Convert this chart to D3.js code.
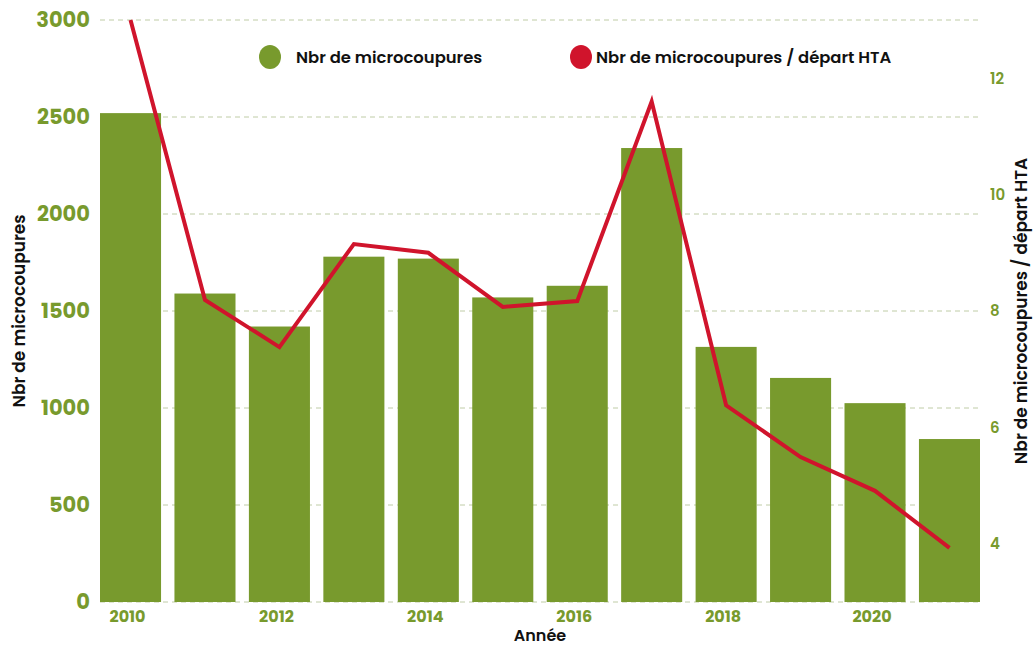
<!DOCTYPE html>
<html>
<head>
<meta charset="utf-8">
<script src="https://cdn.jsdelivr.net/npm/d3@7"></script>
<style>
  html, body { margin: 0; padding: 0; background: #fff; }
  svg { display: block; font-family: Poppins, Inter, sans-serif; }
</style>
</head>
<body>
<svg id="chart" width="1033" height="646"></svg>
<script>
// data
const years = [2010, 2011, 2012, 2013, 2014, 2015, 2016, 2017, 2018, 2019, 2020, 2021];
const microcoupures = [2520, 1590, 1420, 1780, 1770, 1570, 1630, 2340, 1315, 1155, 1025, 840];
const parDepartHTA = [13.0, 8.19, 7.38, 9.15, 9.0, 8.07, 8.17, 11.6, 6.38, 5.49, 4.91, 3.93];
const leftTicks = [0, 500, 1000, 1500, 2000, 2500, 3000];
const rightTicks = [4, 6, 8, 10, 12];
const xTickYears = [2010, 2012, 2014, 2016, 2018, 2020];
const seriesNames = ["Nbr de microcoupures", "Nbr de microcoupures / départ HTA"];

const GREEN = '#789a2d';
const RED = '#d0142c';
const GRID = '#bfcca6';

const plotLeft = 100, plotRight = 980, plotTop = 20, plotBottom = 602;

const svg = d3.select('#chart');

const x = d3.scaleBand()
  .domain(years)
  .range([plotLeft, plotRight])
  .paddingInner(0.18)
  .paddingOuter(0);

const yLeft = d3.scaleLinear().domain([0, 3000]).range([plotBottom, plotTop]);
const yRight = d3.scaleLinear().domain([3, 13]).range([plotBottom, plotTop]);

// grid
svg.append('g')
  .selectAll('line')
  .data(leftTicks)
  .join('line')
  .attr('x1', plotLeft).attr('x2', plotRight)
  .attr('y1', d => yLeft(d)).attr('y2', d => yLeft(d))
  .attr('stroke', GRID)
  .attr('stroke-width', 1)
  .attr('stroke-dasharray', '5,4');

// bars
svg.append('g')
  .selectAll('rect')
  .data(years)
  .join('rect')
  .attr('x', d => x(d))
  .attr('width', x.bandwidth())
  .attr('y', (d, i) => yLeft(microcoupures[i]))
  .attr('height', (d, i) => yLeft(0) - yLeft(microcoupures[i]))
  .attr('fill', GREEN);

// line
const line = d3.line()
  .x((d, i) => x(years[i]) + x.bandwidth() / 2)
  .y(d => yRight(d));

svg.append('path')
  .datum(parDepartHTA)
  .attr('d', line)
  .attr('fill', 'none')
  .attr('stroke', RED)
  .attr('stroke-width', 4);

// left axis
svg.append('g')
  .attr('transform', `translate(${plotLeft - 10},0)`)
  .call(d3.axisLeft(yLeft).tickValues(leftTicks).tickFormat(d3.format('d')).tickSize(0).tickPadding(0))
  .call(ax => ax.select('.domain').remove())
  .call(ax => ax.selectAll('text')
    .attr('fill', GREEN).attr('font-size', 21).attr('font-weight', 700)
    .attr('font-family', 'Poppins, Inter, sans-serif'));

// right axis
svg.append('g')
  .attr('transform', `translate(${plotRight + 10},0)`)
  .call(d3.axisRight(yRight).tickValues(rightTicks).tickSize(0).tickPadding(0))
  .call(ax => ax.select('.domain').remove())
  .call(ax => ax.selectAll('text')
    .attr('fill', GREEN).attr('font-size', 15).attr('font-weight', 600)
    .attr('font-family', 'Poppins, Inter, sans-serif'));

// bottom axis
svg.append('g')
  .attr('transform', `translate(-3,${plotBottom + 9})`)
  .call(d3.axisBottom(x).tickValues(xTickYears).tickSize(0).tickPadding(0))
  .call(ax => ax.select('.domain').remove())
  .call(ax => ax.selectAll('text')
    .attr('fill', GREEN).attr('font-size', 16).attr('font-weight', 700)
    .attr('font-family', 'Poppins, Inter, sans-serif'));

// axis titles
svg.append('text')
  .attr('transform', `translate(25,311) rotate(-90)`)
  .attr('text-anchor', 'middle')
  .attr('font-size', 17).attr('font-weight', 600).attr('fill', '#111')
  .text('Nbr de microcoupures');

svg.append('text')
  .attr('transform', `translate(1027,311) rotate(-90)`)
  .attr('text-anchor', 'middle')
  .attr('font-size', 17).attr('font-weight', 600).attr('fill', '#111')
  .text('Nbr de microcoupures / départ HTA');

svg.append('text')
  .attr('x', 540).attr('y', 641)
  .attr('text-anchor', 'middle')
  .attr('font-size', 16).attr('font-weight', 600).attr('fill', '#111')
  .text('Année');

// legend
const legend = svg.append('g');
const legendX = [270, 581];
const legendColors = [GREEN, RED];
seriesNames.forEach((name, i) => {
  legend.append('ellipse')
    .attr('cx', legendX[i]).attr('cy', 57)
    .attr('rx', 11).attr('ry', 12)
    .attr('fill', legendColors[i]);
  legend.append('text')
    .attr('x', legendX[i] + (i === 0 ? 26 : 15)).attr('y', 63)
    .attr('font-size', 16.4).attr('font-weight', 600).attr('fill', '#111')
    .text(name);
});
</script>
</body>
</html>
